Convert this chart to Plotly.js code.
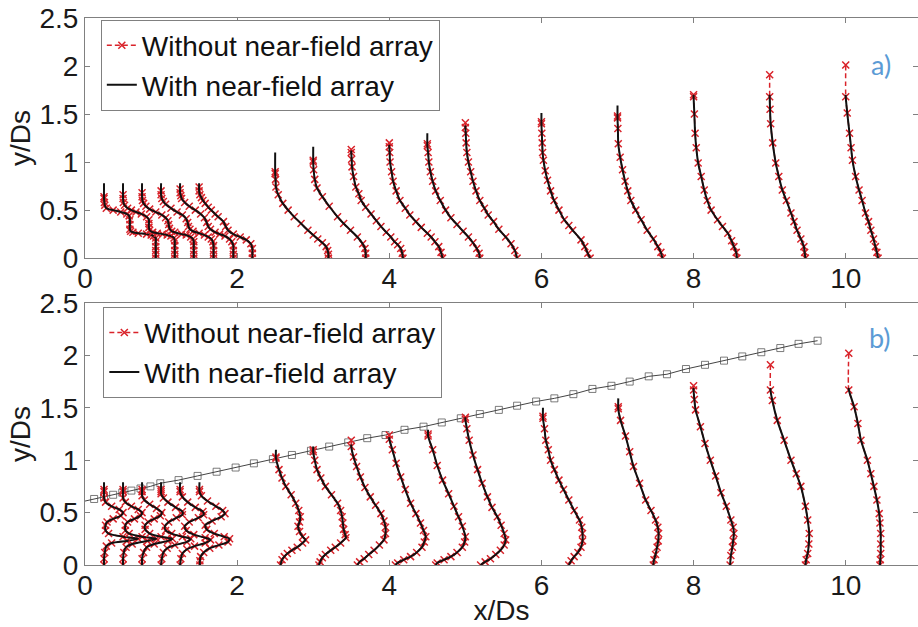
<!DOCTYPE html>
<html>
<head>
<meta charset="utf-8">
<script src="https://cdn.plot.ly/plotly-3.0.1.min.js"></script>
<style>html,body{margin:0;padding:0;background:#fff;overflow:hidden}</style>
</head>
<body>
<div id="chart" style="width:918px;height:627px"></div>
<script>
// Measurement stations (x/Ds) shared by both panels
const stations = [0.25, 0.5, 0.75, 1, 1.25, 1.5, 2.5, 3, 3.5, 4, 4.5, 5, 6, 7, 8, 9, 10];

// ---- Panel a) ----
// upper end of each profile: with / without near-field array
const topWithA    = [0.78, 0.78, 0.78, 0.78, 0.78, 0.78, 1.10, 1.16, 1.12, 1.18, 1.30, 1.38, 1.51, 1.59, 1.70, 1.70, 1.70];
const topWithoutA = [0.64, 0.66, 0.68, 0.70, 0.72, 0.74, 0.90, 1.02, 1.13, 1.20, 1.19, 1.41, 1.42, 1.48, 1.70, 1.91, 2.01];
// profile heights y/Ds
const yA = [
  [0.62,0.58,0.55,0.52,0.50,0.48,0.46,0.44,0.40,0.35,0.30,0.28,0.27,0.26,0.25,0.24,0.23,0.21,0.17,0.12,0.08,0.04,0],
  [0.62,0.58,0.55,0.52,0.50,0.48,0.46,0.43,0.40,0.36,0.32,0.29,0.27,0.26,0.25,0.24,0.23,0.21,0.18,0.13,0.08,0.04,0],
  [0.64,0.60,0.57,0.54,0.51,0.48,0.45,0.42,0.39,0.35,0.31,0.28,0.27,0.25,0.24,0.22,0.20,0.17,0.13,0.08,0.04,0],
  [0.66,0.62,0.59,0.56,0.52,0.48,0.45,0.41,0.37,0.33,0.30,0.28,0.26,0.24,0.22,0.20,0.17,0.13,0.08,0.04,0],
  [0.68,0.65,0.62,0.58,0.54,0.50,0.46,0.42,0.37,0.33,0.30,0.27,0.25,0.23,0.20,0.17,0.13,0.08,0.04,0],
  [0.70,0.66,0.63,0.60,0.57,0.53,0.50,0.46,0.43,0.38,0.33,0.29,0.25,0.22,0.19,0.15,0.10,0.05,0],
  [0.88,0.82,0.74,0.66,0.57,0.50,0.43,0.36,0.29,0.24,0.20,0.16,0.12,0.08,0.04,0],
  [1.00,0.92,0.82,0.73,0.64,0.54,0.43,0.36,0.29,0.22,0.15,0.10,0.05,0],
  [1.10,1.03,0.95,0.85,0.74,0.67,0.60,0.53,0.46,0.39,0.33,0.27,0.22,0.17,0.14,0.10,0.05,0],
  [1.16,1.10,1.00,0.90,0.80,0.70,0.60,0.52,0.45,0.38,0.32,0.26,0.22,0.17,0.12,0.06,0],
  [1.17,1.10,1.00,0.90,0.80,0.70,0.60,0.50,0.42,0.35,0.28,0.22,0.16,0.10,0.05,0],
  [1.36,1.30,1.20,1.10,1.00,0.90,0.80,0.70,0.60,0.52,0.45,0.38,0.30,0.22,0.15,0.08,0],
  [1.40,1.30,1.20,1.10,1.02,0.91,0.81,0.70,0.60,0.50,0.40,0.34,0.29,0.19,0.12,0.05,0],
  [1.46,1.35,1.19,1.05,0.92,0.80,0.70,0.60,0.50,0.40,0.29,0.20,0.12,0.06,0],
  [1.68,1.50,1.30,1.15,0.99,0.85,0.71,0.60,0.50,0.40,0.33,0.26,0.18,0.12,0.06,0],
  [1.68,1.55,1.40,1.20,0.99,0.85,0.71,0.60,0.47,0.38,0.29,0.20,0.12,0.06,0],
  [1.68,1.51,1.30,1.15,1.02,0.85,0.71,0.60,0.47,0.38,0.29,0.20,0.12,0.06,0]
];
// horizontal offset of each profile point from its station
const dxA = [
  [0,0.005,0.01,0.03,0.12,0.22,0.30,0.33,0.34,0.34,0.34,0.35,0.38,0.45,0.56,0.62,0.65,0.68,0.68,0.68,0.68,0.68,0.68],
  [0,0.005,0.02,0.06,0.11,0.17,0.24,0.31,0.34,0.34,0.34,0.35,0.39,0.45,0.52,0.58,0.63,0.67,0.68,0.68,0.68,0.68,0.68],
  [0,0.005,0.02,0.05,0.10,0.18,0.26,0.31,0.34,0.35,0.36,0.39,0.43,0.52,0.58,0.64,0.67,0.68,0.68,0.68,0.68,0.68],
  [0,0.01,0.03,0.06,0.13,0.21,0.28,0.33,0.35,0.36,0.38,0.42,0.50,0.57,0.62,0.66,0.68,0.69,0.69,0.69,0.69],
  [0,0.01,0.02,0.06,0.12,0.20,0.27,0.32,0.35,0.37,0.40,0.46,0.52,0.59,0.65,0.68,0.70,0.70,0.70,0.70],
  [0,0.01,0.03,0.05,0.08,0.12,0.16,0.21,0.25,0.32,0.35,0.38,0.45,0.54,0.62,0.68,0.70,0.70,0.70],
  [0,0.005,0.01,0.04,0.10,0.17,0.25,0.34,0.43,0.50,0.56,0.62,0.67,0.69,0.70,0.70],
  [0,0.005,0.02,0.05,0.12,0.21,0.32,0.40,0.49,0.58,0.65,0.68,0.69,0.69],
  [0,0.005,0.01,0.03,0.06,0.10,0.13,0.19,0.26,0.33,0.39,0.46,0.52,0.57,0.61,0.65,0.67,0.68],
  [0,0.005,0.01,0.03,0.05,0.09,0.14,0.21,0.27,0.35,0.42,0.50,0.55,0.60,0.65,0.68,0.70],
  [0,0.01,0.02,0.04,0.07,0.11,0.17,0.24,0.31,0.39,0.47,0.54,0.60,0.65,0.68,0.69],
  [0,0.005,0.01,0.02,0.04,0.07,0.10,0.14,0.19,0.25,0.30,0.37,0.44,0.53,0.60,0.65,0.68],
  [0,0.005,0.01,0.015,0.026,0.05,0.08,0.12,0.166,0.23,0.30,0.36,0.41,0.52,0.57,0.61,0.64],
  [0,0.005,0.01,0.035,0.066,0.10,0.135,0.175,0.24,0.31,0.39,0.47,0.53,0.57,0.59],
  [0,0.01,0.02,0.035,0.06,0.10,0.14,0.18,0.23,0.315,0.38,0.45,0.50,0.53,0.56,0.57],
  [0,0.005,0.013,0.04,0.08,0.12,0.166,0.22,0.28,0.32,0.36,0.41,0.45,0.46,0.47],
  [0,0.02,0.05,0.07,0.088,0.13,0.175,0.215,0.26,0.30,0.33,0.365,0.39,0.41,0.425]
];

// ---- Panel b) ----
const topWithB    = [0.79, 0.79, 0.79, 0.79, 0.79, 0.79, 1.10, 1.13, 1.15, 1.22, 1.29, 1.41, 1.50, 1.59, 1.69, 1.69, 1.69];
const topWithoutB = [0.72, 0.72, 0.72, 0.72, 0.72, 0.72, 1.03, 1.10, 1.19, 1.24, 1.25, 1.41, 1.42, 1.51, 1.71, 1.91, 2.02];
const yB = [
  [0.70,0.64,0.60,0.56,0.53,0.50,0.47,0.44,0.41,0.38,0.33,0.30,0.27,0.25,0.23,0.21,0.18,0.12,0.06,0],
  [0.70,0.64,0.60,0.56,0.53,0.50,0.47,0.44,0.41,0.38,0.33,0.30,0.27,0.25,0.23,0.20,0.17,0.12,0.06,0],
  [0.70,0.66,0.62,0.58,0.54,0.50,0.47,0.44,0.41,0.38,0.34,0.30,0.27,0.25,0.23,0.20,0.17,0.12,0.06,0],
  [0.70,0.68,0.64,0.60,0.55,0.51,0.48,0.45,0.41,0.37,0.33,0.30,0.27,0.25,0.22,0.19,0.16,0.12,0.06,0],
  [0.70,0.65,0.60,0.55,0.51,0.48,0.45,0.41,0.37,0.33,0.29,0.26,0.24,0.21,0.18,0.15,0.11,0.06,0],
  [0.70,0.66,0.61,0.56,0.52,0.49,0.46,0.42,0.38,0.34,0.30,0.27,0.25,0.22,0.19,0.16,0.12,0.08,0.04,0],
  [1.02,0.91,0.83,0.75,0.67,0.59,0.52,0.46,0.41,0.37,0.32,0.27,0.24,0.21,0.17,0.14,0.11,0.08,0.05,0],
  [1.08,1.00,0.91,0.83,0.75,0.67,0.59,0.52,0.46,0.40,0.34,0.29,0.26,0.21,0.17,0.14,0.10,0.07,0.03,0],
  [1.13,1.03,0.94,0.84,0.74,0.65,0.57,0.49,0.42,0.36,0.30,0.24,0.19,0.14,0.10,0.06,0.03,0],
  [1.20,1.10,0.97,0.84,0.72,0.59,0.49,0.40,0.33,0.27,0.22,0.17,0.12,0.08,0.05,0.02,0],
  [1.23,1.10,0.95,0.81,0.68,0.56,0.46,0.37,0.27,0.22,0.17,0.12,0.08,0.05,0.02,0],
  [1.39,1.30,1.19,1.05,0.91,0.78,0.65,0.55,0.46,0.38,0.30,0.24,0.19,0.14,0.10,0.06,0.03,0],
  [1.40,1.30,1.19,1.10,1.00,0.91,0.81,0.72,0.62,0.52,0.43,0.36,0.30,0.23,0.17,0.12,0.08,0.04,0],
  [1.49,1.38,1.23,1.08,0.94,0.78,0.62,0.52,0.43,0.36,0.30,0.23,0.17,0.10,0.05,0],
  [1.67,1.58,1.48,1.32,1.16,1.00,0.85,0.69,0.56,0.43,0.36,0.30,0.23,0.17,0.09,0],
  [1.67,1.57,1.38,1.19,1.00,0.87,0.75,0.56,0.43,0.30,0.20,0.11,0.05,0],
  [1.67,1.51,1.35,1.19,1.00,0.87,0.75,0.62,0.49,0.40,0.30,0.20,0.11,0.05,0]
];
const dxB = [
  [0,0,0.02,0.10,0.20,0.25,0.22,0.12,0.04,0.02,0.02,0.06,0.25,0.45,0.30,0.10,0.03,0.01,0,0],
  [0,0,0.03,0.11,0.20,0.25,0.23,0.15,0.06,0.03,0.03,0.08,0.25,0.44,0.32,0.12,0.04,0.01,0,0],
  [0,0,0.03,0.10,0.19,0.26,0.24,0.16,0.08,0.04,0.04,0.10,0.25,0.40,0.34,0.16,0.06,0.02,0,0],
  [0,0,0.03,0.09,0.19,0.28,0.28,0.20,0.10,0.05,0.06,0.14,0.28,0.39,0.34,0.18,0.08,0.03,0.01,0],
  [0,0.03,0.10,0.20,0.30,0.31,0.24,0.12,0.06,0.08,0.18,0.33,0.40,0.33,0.19,0.09,0.03,0.01,0],
  [0.005,0.03,0.11,0.22,0.31,0.34,0.29,0.17,0.08,0.10,0.20,0.33,0.40,0.38,0.26,0.14,0.06,0.02,0.01,0.01],
  [0.01,0.05,0.09,0.14,0.21,0.27,0.31,0.33,0.32,0.30,0.32,0.36,0.40,0.36,0.29,0.22,0.16,0.12,0.09,0.07],
  [0,0.02,0.05,0.10,0.16,0.24,0.32,0.36,0.38,0.39,0.40,0.42,0.43,0.36,0.29,0.23,0.16,0.12,0.09,0.075],
  [0,0.03,0.07,0.12,0.18,0.25,0.32,0.39,0.43,0.45,0.45,0.43,0.37,0.30,0.23,0.17,0.11,0.08],
  [0,0.04,0.09,0.15,0.21,0.28,0.35,0.41,0.45,0.48,0.46,0.43,0.36,0.28,0.19,0.11,0.08],
  [0.01,0.07,0.13,0.20,0.28,0.35,0.41,0.46,0.50,0.49,0.46,0.39,0.31,0.22,0.13,0.11],
  [0,0.02,0.05,0.10,0.16,0.22,0.29,0.35,0.42,0.47,0.51,0.53,0.51,0.46,0.40,0.33,0.26,0.20],
  [0.02,0.04,0.057,0.09,0.12,0.17,0.23,0.29,0.36,0.43,0.50,0.53,0.54,0.54,0.52,0.48,0.43,0.39,0.36],
  [0.01,0.04,0.105,0.16,0.21,0.29,0.37,0.44,0.50,0.53,0.54,0.535,0.52,0.50,0.48,0.47],
  [0,0.01,0.026,0.09,0.15,0.22,0.29,0.36,0.43,0.49,0.52,0.53,0.52,0.51,0.49,0.48],
  [0.01,0.035,0.10,0.19,0.28,0.35,0.41,0.47,0.50,0.52,0.515,0.50,0.48,0.47],
  [0.04,0.11,0.16,0.20,0.285,0.33,0.37,0.41,0.44,0.45,0.46,0.46,0.46,0.455,0.45]
];

// Array boundary line (panel b)
const arrayX = [0, 0.12, 0.25, 0.37, 0.49, 0.61, 0.73, 0.86, 0.99, 1.23, 1.48, 1.73, 1.98, 2.22, 2.47, 2.72, 2.97, 3.21, 3.46, 3.71, 3.95, 4.20, 4.45, 4.69, 4.94, 5.19, 5.44, 5.68, 5.93, 6.17, 6.42, 6.67, 6.92, 7.16, 7.41, 7.65, 7.90, 8.15, 8.40, 8.64, 8.89, 9.14, 9.38, 9.63];
const arrayY = [0.61, 0.63, 0.65, 0.67, 0.69, 0.71, 0.73, 0.75, 0.78, 0.81, 0.85, 0.89, 0.93, 0.97, 1.01, 1.05, 1.09, 1.13, 1.17, 1.21, 1.24, 1.29, 1.32, 1.36, 1.40, 1.44, 1.48, 1.52, 1.56, 1.59, 1.63, 1.68, 1.71, 1.75, 1.80, 1.82, 1.87, 1.91, 1.95, 1.99, 2.03, 2.07, 2.11, 2.14];

const seriesNames = ['Without near-field array', 'With near-field array'];

const RED = '#d9232a';
const FONT = 'Liberation Sans, Arial, Helvetica, sans-serif';

const traces = [];

function profileTraces(ys, dxs, topWith, topWithout, xa, ya, legendId) {
  stations.forEach((s, i) => {
    const x0 = s + dxs[i][0];
    const px = dxs[i].map(d => s + d);
    // without near-field array: red dashed with crosses
    traces.push({
      type: 'scatter', mode: 'lines+markers', xaxis: xa, yaxis: ya,
      x: [x0].concat(px), y: [topWithout[i]].concat(ys[i]),
      name: seriesNames[0], legend: legendId, showlegend: i === 0,
      line: {color: RED, width: 1.5, dash: '5px,3px', shape: 'spline', smoothing: 0.6},
      marker: {symbol: 'x-thin-open', size: 7, color: RED, line: {color: RED, width: 1.5}},
      hoverinfo: 'skip'
    });
    // with near-field array: solid black
    traces.push({
      type: 'scatter', mode: 'lines', xaxis: xa, yaxis: ya,
      x: [x0].concat(px), y: [topWith[i]].concat(ys[i]),
      name: seriesNames[1], legend: legendId, showlegend: i === 0,
      line: {color: '#111', width: 2, shape: 'spline', smoothing: 0.6},
      hoverinfo: 'skip'
    });
  });
}

// panel b: array boundary drawn beneath the profiles
traces.push({
  type: 'scatter', mode: 'lines+markers', xaxis: 'x2', yaxis: 'y2',
  x: arrayX, y: arrayY, showlegend: false,
  line: {color: '#444', width: 1},
  marker: {symbol: 'square-open', size: arrayX.map((v, k) => k === 0 ? 0 : 7), color: '#444', line: {color: '#444', width: 1}},
  hoverinfo: 'skip'
});

profileTraces(yA, dxA, topWithA, topWithoutA, 'x', 'y', 'legend');
profileTraces(yB, dxB, topWithB, topWithoutB, 'x2', 'y2', 'legend2');

const TXT = '#1a1a1a';
const axisCommon = {
  showline: true, mirror: 'ticks', linecolor: '#808080', linewidth: 1,
  ticks: 'inside', ticklen: 5, tickcolor: '#808080', tickwidth: 1,
  showgrid: false, zeroline: false,
  tickfont: {family: FONT, size: 28, color: TXT}
};
const xCommon = Object.assign({}, axisCommon, {range: [0, 10.95], tick0: 0, dtick: 2, ticklabelstandoff: -5});
const yCommon = Object.assign({}, axisCommon, {range: [0, 2.5], tick0: 0, dtick: 0.5, ticklabelstandoff: 0});
const yTitle = {text: 'y/Ds', font: {family: FONT, size: 28, color: TXT}, standoff: 0};

const legendCommon = {
  xanchor: 'left', yanchor: 'top', bgcolor: '#ffffff',
  bordercolor: '#808080', borderwidth: 1,
  font: {family: FONT, size: 28, color: '#111'},
  itemwidth: 30, tracegroupgap: 0
};

const layout = {
  width: 918, height: 627,
  margin: {l: 85, r: 0, t: 18, b: 62},
  paper_bgcolor: '#ffffff', plot_bgcolor: '#ffffff',
  showlegend: true,
  xaxis: Object.assign({}, xCommon, {domain: [0, 1], anchor: 'y'}),
  yaxis: Object.assign({}, yCommon, {domain: [0.561, 1], anchor: 'x', title: yTitle}),
  xaxis2: Object.assign({}, xCommon, {domain: [0, 1], anchor: 'y2',
    title: {text: 'x/Ds', font: {family: FONT, size: 28, color: TXT}, standoff: 0}}),
  yaxis2: Object.assign({}, yCommon, {domain: [0, 0.479], anchor: 'x2', title: yTitle}),
  legend: Object.assign({}, legendCommon, {x: 0.019, y: 0.997}),
  legend2: Object.assign({}, legendCommon, {x: 0.022, y: 0.472}),
  annotations: [
    {text: 'a)', xref: 'paper', yref: 'paper', x: 0.97, y: 0.949, showarrow: false,
     font: {family: 'Lato, Open Sans, sans-serif', size: 27, color: '#5b9bd5'}},
    {text: 'b)', xref: 'paper', yref: 'paper', x: 0.97, y: 0.415, showarrow: false,
     font: {family: 'Lato, Open Sans, sans-serif', size: 27, color: '#5b9bd5'}}
  ]
};

Plotly.newPlot('chart', traces, layout, {displayModeBar: false, staticPlot: true});
</script>
</body>
</html>
